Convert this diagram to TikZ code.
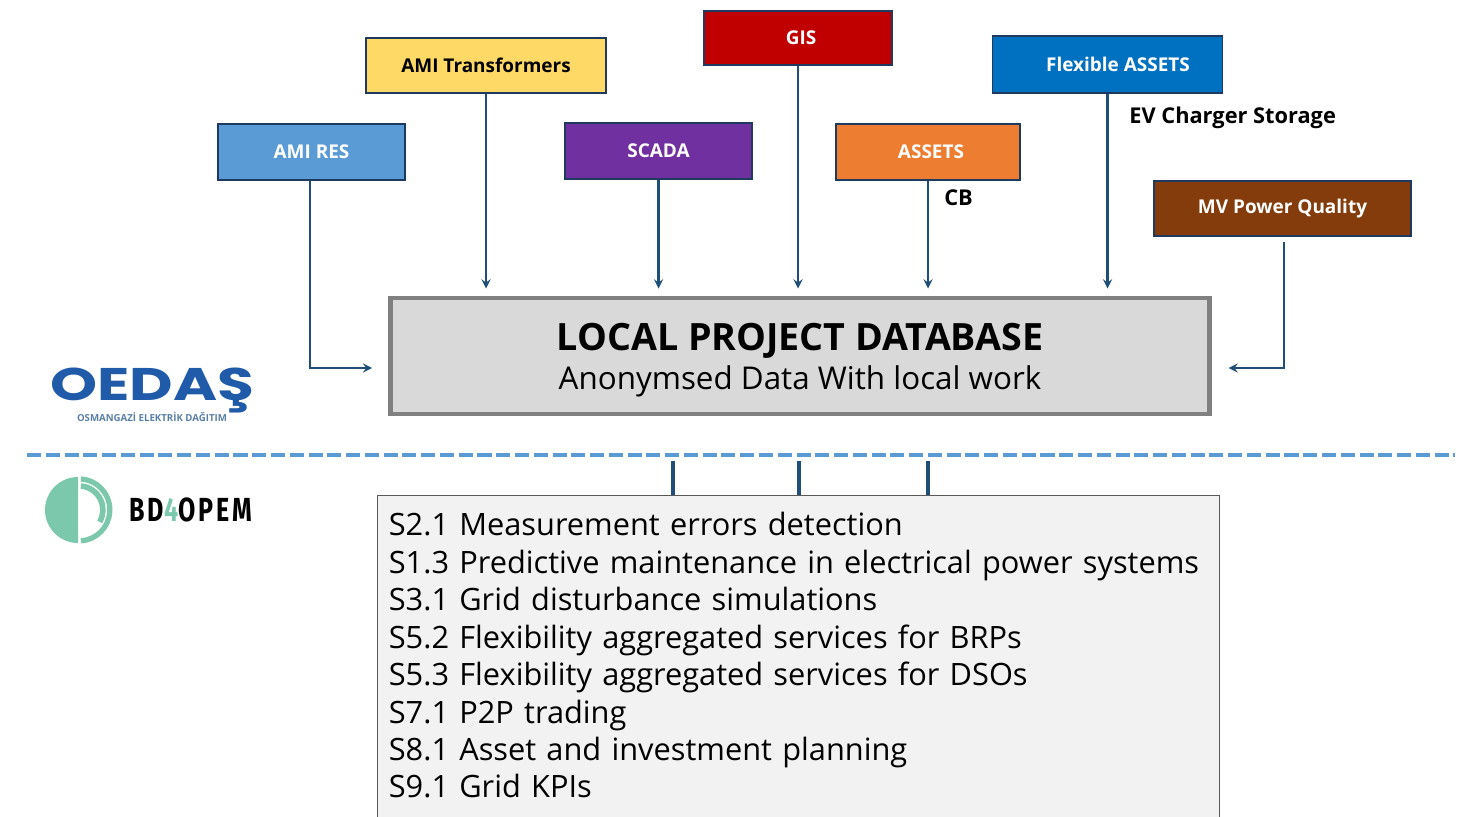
\documentclass[tikz,border=0pt]{standalone}
\usepackage{fontspec}
\setmainfont{Open Sans}
\newfontfamily\logofont{Poppins}
\newfontfamily\bdfont[LetterSpace=12]{Fira Sans}

\definecolor{borderblue}{HTML}{1F3A5F}
\definecolor{arrowblue}{HTML}{1F4E79}
\definecolor{dashblue}{HTML}{5B9BD5}
\definecolor{oedasblue}{HTML}{1F5BA8}
\definecolor{oedasgrey}{HTML}{5A7FA6}
\definecolor{bdgreen}{HTML}{7CC8AD}
\definecolor{amiyellow}{HTML}{FFD966}
\definecolor{scadapurple}{HTML}{7030A0}
\definecolor{gisred}{HTML}{C00000}
\definecolor{assetorange}{HTML}{ED7D31}
\definecolor{flexblue}{HTML}{0070C0}
\definecolor{powerbrown}{HTML}{843C0C}

\tikzset{
    source/.style={draw=borderblue, line width=0.8pt, text=white, font=\fontsize{10.8}{13}\selectfont\bfseries,
        inner sep=0pt},
    feed/.style={draw=arrowblue, line width=1.3pt, -stealth, shorten >=4pt},
    link/.style={draw=arrowblue, line width=1.9pt},
    note/.style={font=\fontsize{12.4}{15}\selectfont\bfseries, inner sep=0pt}
}

\begin{document}
\begin{tikzpicture}[x=0.2mm, y=-0.2mm]
    \clip (0,0) rectangle (1462,817);

    % Data sources
    \node[source, fill=dashblue, minimum width=37.4mm, minimum height=11.2mm] (amires) at (311.5,152) {\raisebox{-0.5pt}{AMI RES}};
    \node[source, fill=amiyellow, text=black, minimum width=48mm, minimum height=11mm] (amitrans) at (486,65.5) {\raisebox{0.7pt}{AMI Transformers}};
    \node[source, fill=scadapurple, minimum width=37.4mm, minimum height=11.2mm] (scada) at (658.5,151) {\raisebox{-1.2pt}{SCADA}};
    \node[source, fill=gisred, minimum width=37.6mm, minimum height=10.8mm] (gis) at (798,38) {\hspace*{1.2mm}GIS};
    \node[source, fill=assetorange, minimum width=36.8mm, minimum height=11.2mm] (assets) at (928,152) {\hspace*{1.2mm}\raisebox{0.5pt}{ASSETS}};
    \node[source, fill=flexblue, minimum width=46mm, minimum height=11.4mm] (flex) at (1107.5,64.5) {\hspace*{4.2mm}\raisebox{0.5pt}{Flexible ASSETS}};
    \node[source, fill=powerbrown, minimum width=51.4mm, minimum height=11mm] (power) at (1282.5,208.5) {\raisebox{0.5pt}{MV Power Quality}};

    \node[note, anchor=west] (ev) at (1129,118) {EV Charger Storage};
    \node[note, anchor=west] (cb) at (944,198) {CB};

    % Database
    \node[draw=black!50, fill=black!15, line width=2.8pt, minimum width=163.8mm, minimum height=23.2mm] (db) at (800,356) {};
    \node[anchor=base, inner sep=0pt, font=\fontsize{21.4}{25}\selectfont\bfseries] (dbtitle) at (800,351) {LOCAL PROJECT DATABASE};
    \node[anchor=base, inner sep=0pt, font=\fontsize{17.85}{22}\selectfont] (dbsub) at (800,390) {Anonymsed Data With local work};

    % Arrows into the database
    \coordinate (dbleft) at (389,368);
    \coordinate (dbright) at (1211,368);
    \draw[feed, shorten >=9.6pt] (amires.south -| 310,0) |- (dbleft);
    \draw[feed] (amitrans) -- (amitrans |- db.north);
    \draw[feed] (scada) -- (scada |- db.north);
    \draw[feed] (gis) -- (gis |- db.north);
    \draw[feed] (assets) -- (assets |- db.north);
    \draw[feed] (flex) -- (flex |- db.north);
    \draw[feed, shorten >=10pt, shorten <=3pt] (power.south -| 1284,0) |- (dbright);

    % Separator
    \draw[dashblue, line width=2.2pt, dash pattern=on 8pt off 2.68pt] (27,455) -- (1455,455);

    % Use cases, the box runs off the bottom of the page
    \node[draw=black!65, fill=black!5, line width=0.8pt, anchor=north west, minimum width=168.4mm, minimum height=66mm] (cases) at (377,495) {};
    \node[anchor=west, text width=163.8mm, inner xsep=2.3mm, inner ysep=0pt, align=left, font=\fontsize{17.5}{21.3}\selectfont] (caselist) at (377,655.5)
        {S2.1 Measurement errors detection\\
         S1.3 Predictive maintenance in electrical power systems\\
         S3.1 Grid disturbance simulations\\
         S5.2 Flexibility aggregated services for BRPs\\
         S5.3 Flexibility aggregated services for DSOs\\
         S7.1 P2P trading\\
         S8.1 Asset and investment planning\\
         S9.1 Grid KPIs};

    \coordinate (sepa) at (673,461);
    \coordinate (sepb) at (799,461);
    \coordinate (sepc) at (928,461);
    \draw[link] (sepa) -- (sepa |- cases.north);
    \draw[link] (sepb) -- (sepb |- cases.north);
    \draw[link] (sepc) -- (sepc |- cases.north);

    % OEDAS logo
    \node[text=oedasblue, font=\logofont\fontsize{26}{30}\selectfont\bfseries, xscale=1.31, transform shape, inner sep=0pt] (oedas) at (152,390) {OEDAŞ};
    \node[text=oedasgrey, font=\fontsize{5.5}{8}\selectfont\bfseries, inner sep=0pt] (oedassub) at (152,417) {OSMANGAZİ ELEKTRİK DAĞITIM};

    % BD4OPEM logo
    \fill[bdgreen] (78,477) arc[start angle=90, end angle=270, radius=6.6mm] -- cycle;
    \draw[bdgreen, line width=3pt] (81,479) arc[start angle=86, end angle=-86, radius=6.2mm];
    \draw[bdgreen, line width=3.2pt] (81,486) arc[start angle=85, end angle=-30, radius=4.8mm];
    \node[font=\bdfont\fontsize{19}{22}\selectfont\bfseries, xscale=0.75, transform shape, inner sep=0pt] (bd) at (191,510) {BD{\color{bdgreen}4}OPEM};
\end{tikzpicture}
\end{document}
